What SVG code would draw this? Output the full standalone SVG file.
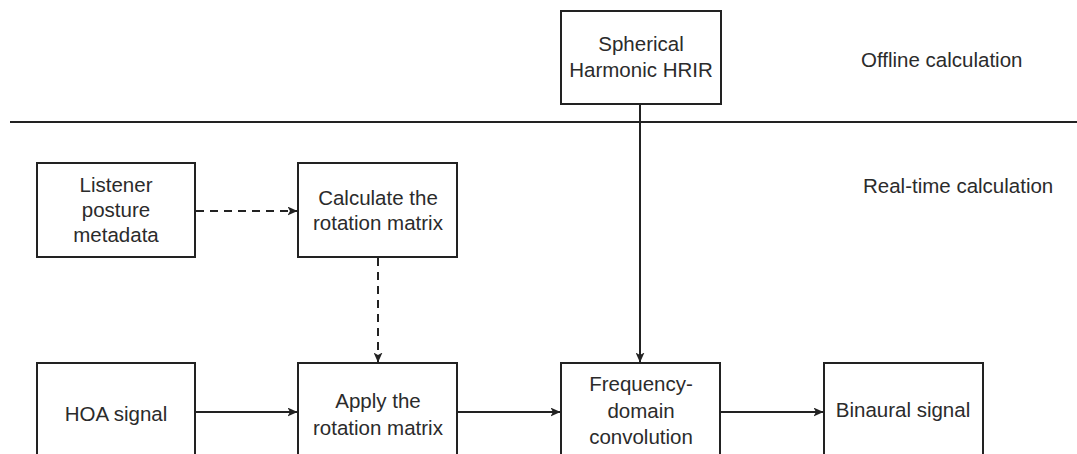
<svg xmlns="http://www.w3.org/2000/svg" width="1077" height="454" viewBox="0 0 1077 454">
  <style>
    .box { fill: #ffffff; stroke: #222222; stroke-width: 2; }
    .lbl { font-family: "Liberation Sans", Arial, sans-serif; font-size: 20.5px; fill: #2b2b2b; text-anchor: middle; }
    .note { font-family: "Liberation Sans", Arial, sans-serif; font-size: 20.5px; fill: #2b2b2b; }
    .edge { fill: none; stroke: #222222; stroke-width: 2; }
    .dash { stroke-dasharray: 8 6; }
  </style>
  <defs>
    <marker id="arrow" viewBox="0 0 10 9" refX="9.5" refY="4.5" markerWidth="10" markerHeight="9" markerUnits="userSpaceOnUse" orient="auto">
      <path d="M0,0 L10,4.5 L0,9 L2.5,4.5 Z" fill="#222222"/>
    </marker>
  </defs>
  <rect width="1077" height="454" fill="#ffffff"/>

  <!-- section divider -->
  <line x1="10" y1="122" x2="1077" y2="122" stroke="#222222" stroke-width="2"/>
  <text class="note" x="861" y="67">Offline calculation</text>
  <text class="note" x="863" y="193">Real-time calculation</text>

  <g id="connectors">
    <line class="edge" x1="640" y1="104" x2="640" y2="362" marker-end="url(#arrow)"/>
    <line class="edge dash" x1="196" y1="211" x2="297" y2="211" marker-end="url(#arrow)"/>
    <line class="edge dash" x1="378" y1="258" x2="378" y2="362" marker-end="url(#arrow)"/>
    <line class="edge" x1="196" y1="412" x2="297" y2="412" marker-end="url(#arrow)"/>
    <line class="edge" x1="458" y1="412" x2="560" y2="412" marker-end="url(#arrow)"/>
    <line class="edge" x1="721" y1="412" x2="823" y2="412" marker-end="url(#arrow)"/>
  </g>

  <g id="sh-hrir">
    <rect class="box" x="561" y="11" width="160" height="93"/>
    <text class="lbl" x="641" y="51">Spherical</text>
    <text class="lbl" x="641" y="77">Harmonic HRIR</text>
  </g>

  <g id="listener">
    <rect class="box" x="37" y="163" width="158" height="94"/>
    <text class="lbl" x="116" y="192">Listener</text>
    <text class="lbl" x="116" y="217">posture</text>
    <text class="lbl" x="116" y="242">metadata</text>
  </g>

  <g id="calc-rotation">
    <rect class="box" x="298" y="163" width="159" height="94"/>
    <text class="lbl" x="378" y="205">Calculate the</text>
    <text class="lbl" x="378" y="230">rotation matrix</text>
  </g>

  <g id="hoa">
    <rect class="box" x="37" y="363" width="158" height="110"/>
    <text class="lbl" x="116" y="421">HOA signal</text>
  </g>

  <g id="apply-rotation">
    <rect class="box" x="298" y="363" width="159" height="110"/>
    <text class="lbl" x="378" y="408">Apply the</text>
    <text class="lbl" x="378" y="435">rotation matrix</text>
  </g>

  <g id="convolution">
    <rect class="box" x="561" y="363" width="159" height="110"/>
    <text class="lbl" x="641" y="391">Frequency-</text>
    <text class="lbl" x="641" y="418">domain</text>
    <text class="lbl" x="641" y="444">convolution</text>
  </g>

  <g id="binaural">
    <rect class="box" x="824" y="363" width="159" height="110"/>
    <text class="lbl" x="903" y="417">Binaural signal</text>
  </g>
</svg>
